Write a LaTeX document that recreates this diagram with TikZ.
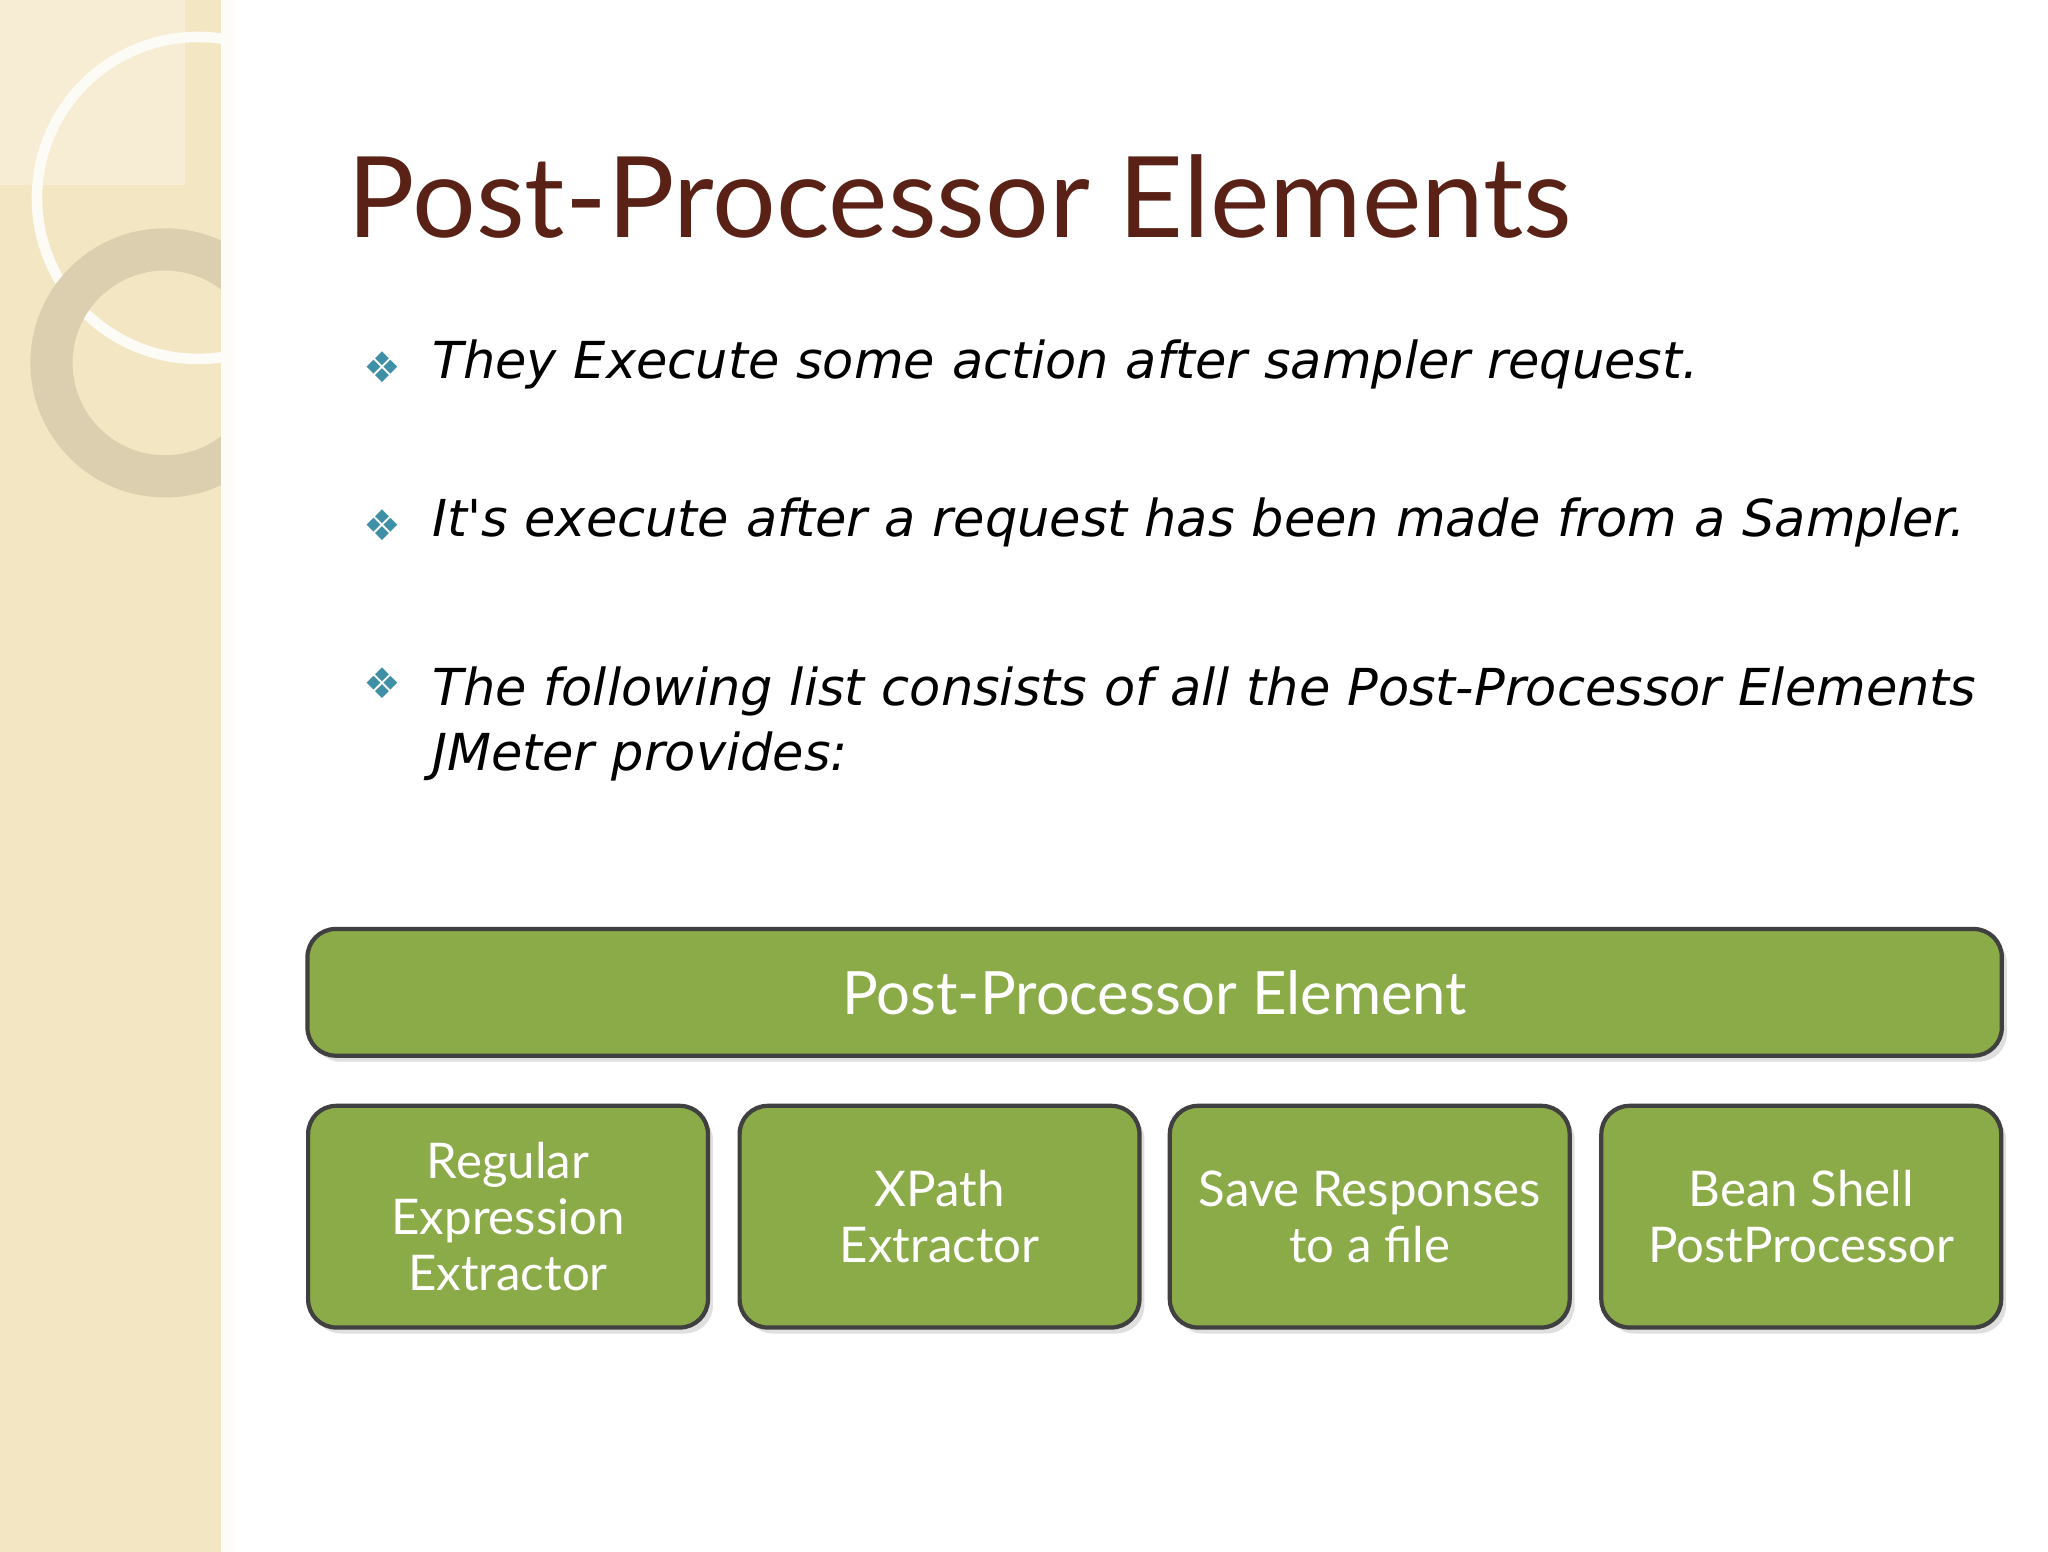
\documentclass[tikz,border=0pt]{standalone}
\usepackage{fontspec}
\setmainfont{Lato}
\newfontfamily\hand{DejaVu Sans}
\usetikzlibrary{shadows}
\definecolor{beige}{HTML}{F3E6C2}
\definecolor{titlec}{HTML}{5A2217}
\definecolor{gr}{HTML}{8AAB48}
\definecolor{bul}{HTML}{3F8FA6}
\tikzset{
 gbox/.style={draw=black!75,line width=1.2pt,fill=gr,rounded corners=8pt,text=white,align=center,drop shadow={opacity=0.25,shadow xshift=0.5mm,shadow yshift=-0.6mm}},
 btxt/.style={anchor=west,font=\hand\itshape\fontsize{14.5}{18.5}\selectfont,align=left,text width=17cm},
 bmark/.style={text=bul,font=\hand\fontsize{12}{12}\selectfont}
}
\begin{document}
\begin{tikzpicture}[x=0.13196mm,y=-0.13196mm]
\useasboundingbox (0,0) rectangle (1552,1176);
\fill[white] (0,0) rectangle (1552,1176);
\fill[beige] (0,0) rectangle (173,1176);
\fill[beige!70!white] (0,0) rectangle (140,140);
\begin{scope}
\clip (0,0) rectangle (173,1176);
\draw[white!85!beige,line width=3pt] (150,150) circle (122);
\draw[black!10!beige,line width=12pt] (125,275) circle (86);
\end{scope}
\draw[white!90!beige,line width=4pt] (173,0) -- (173,1176);
\node[anchor=base west,text=titlec,font=\fontsize{32}{36}\selectfont,inner sep=0] (title) at (263,180) {Post-Processor Elements};
\node[bmark] (m1) at (290,278) {❖};
\node[btxt] (t1) at (318,276) {They Execute some action after sampler request.};
\node[bmark] (m2) at (290,398) {❖};
\node[btxt] (t2) at (318,396) {It's execute after a request has been made from a Sampler.};
\node[bmark] (m3) at (290,518) {❖};
\node[btxt,anchor=north west] (t3) at (318,496) {The following list consists of all the Post-Processor Elements\\JMeter provides:};
\node[gbox,minimum width=1284*0.13196mm,minimum height=96*0.13196mm,font=\fontsize{17}{20}\selectfont] (top) at (875,752) {Post-Processor Element};
\foreach \n/\x/\t in {a/385/{Regular\\Expression\\Extractor},b/712/{XPath\\Extractor},c/1038/{Save Responses\\to a file},d/1365/{Bean Shell\\PostProcessor}}{
 \node[gbox,minimum width=303*0.13196mm,minimum height=168*0.13196mm,font=\fontsize{14}{16}\selectfont] (\n) at (\x,922) {\t};
}
\end{tikzpicture}
\end{document}
